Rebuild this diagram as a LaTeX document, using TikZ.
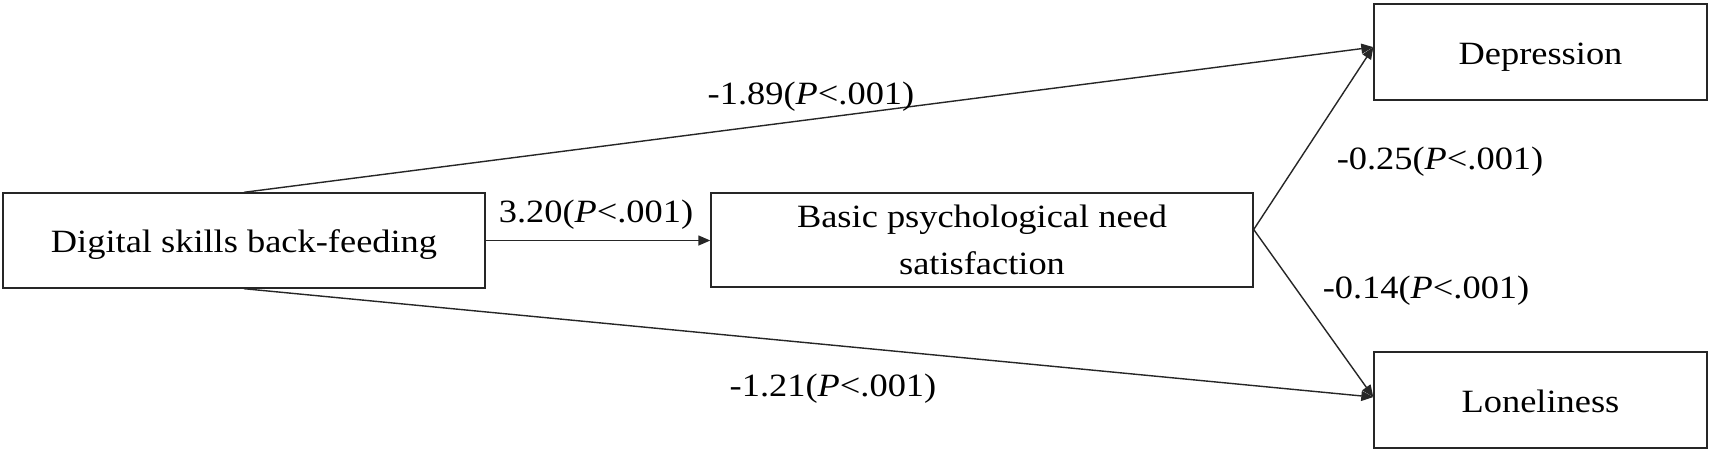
\documentclass[tikz,border=0pt]{standalone}
\usepackage{fontspec}
\setmainfont[FakeStretch=1.12]{Liberation Serif}
\usetikzlibrary{arrows.meta,calc}
\begin{document}
\begin{tikzpicture}[x=1pt,y=-1pt,
  box/.style={draw=black!85, line width=1.4pt, inner sep=0pt, align=center, font=\fontsize{32.5}{47}\selectfont},
  onebox/.style={box, text height=25pt, text depth=1pt},
  lbl/.style={inner sep=0pt, font=\fontsize{32.5}{40}\selectfont},
  conn/.style={draw=black!85, line width=1.4pt, -{Triangle[length=12pt,width=10pt]}}]
\useasboundingbox[fill=white] (0,0) rectangle (1712,453);
\node[onebox, minimum width=482pt, minimum height=95pt] (A) at (244,240.5) {Digital skills back-feeding};
\node[box, minimum width=542pt, minimum height=94pt] (B) at (982,240) {Basic psychological need\\satisfaction};
\node[onebox, minimum width=333pt, minimum height=96pt] (D) at (1540.5,52) {Depression};
\node[onebox, minimum width=333pt, minimum height=96pt] (L) at (1540.5,400) {Loneliness};
\coordinate (Bout) at ($(B.north east)!0.39!(B.south east)$);
\coordinate (Din) at ($(D.north west)!0.45!(D.south west)$);
\coordinate (Lin) at ($(L.north west)!0.47!(L.south west)$);
\draw[conn] (A.east) -- (A.east -| B.west);
\draw[conn] (A.north) -- (Din);
\draw[conn] (A.south) -- (Lin);
\draw[conn] (Bout) -- (Din);
\draw[conn] (Bout) -- (Lin);
\node[lbl] (l1) at (596,215) {3.20(\textit{P}<.001)};
\node[lbl] (l2) at (811,97) {-1.89(\textit{P}<.001)};
\node[lbl] (l3) at (833,389) {-1.21(\textit{P}<.001)};
\node[lbl] (l4) at (1440,162) {-0.25(\textit{P}<.001)};
\node[lbl] (l5) at (1426,291) {-0.14(\textit{P}<.001)};
\end{tikzpicture}
\end{document}
